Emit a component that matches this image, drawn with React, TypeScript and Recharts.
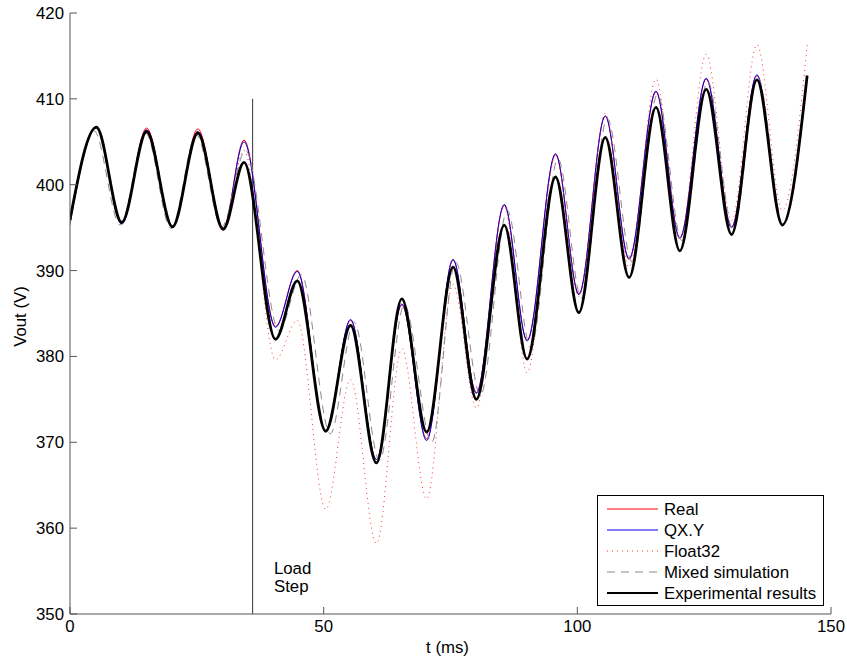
import { LineChart, Line, XAxis, YAxis, Legend, ReferenceLine, ReferenceDot, Label } from "recharts"

// extrema times (ms) shared by Real / QX.Y / Float32 / Experimental
const tMain = [0, 5.2, 10.2, 15.1, 20.2, 25.2, 30.2, 34.3, 40.5, 44.8, 50.4, 55.3, 60.4, 65.4, 70.3, 75.5, 80.1, 85.6, 90.1, 95.7, 100.3, 105.5, 110.2, 115.5, 120.2, 125.4, 130.4, 135.4, 140.4, 145.3]
// mixed simulation is slightly out of phase
const tMixed = [0, 4.7, 9.9, 14.9, 19.9, 24.9, 29.9, 34.6, 41.2, 45.6, 51.3, 56.0, 61.0, 65.9, 71.3, 76.0, 80.9, 86.2, 90.8, 96.2, 100.8, 105.9, 110.8, 115.8, 120.6, 125.7, 130.7, 135.6, 140.6, 145.3]

const real = [395.8, 406.7, 395.6, 406.6, 395.2, 406.5, 395.0, 405.2, 383.5, 390.0, 371.3, 384.2, 368.0, 386.0, 370.4, 391.2, 375.8, 397.6, 381.9, 403.5, 387.3, 408.0, 391.3, 410.8, 393.8, 412.3, 395.1, 412.7, 395.3, 412.7]
const qxy = [395.5, 406.6, 395.4, 406.4, 395.1, 406.2, 394.9, 405.0, 383.4, 389.9, 371.2, 384.3, 368.0, 386.1, 370.2, 391.3, 375.7, 397.7, 381.8, 403.6, 387.2, 408.0, 391.4, 410.9, 393.8, 412.4, 395.0, 412.8, 395.3, 412.7]
const float32 = [395.5, 406.5, 395.5, 406.5, 395.0, 406.3, 395.0, 404.0, 379.6, 384.2, 362.2, 377.3, 358.2, 380.9, 363.4, 388.4, 374.0, 397.5, 378.1, 403.4, 387.0, 408.3, 390.4, 412.3, 393.6, 415.2, 395.8, 416.3, 397.0, 416.3]
const mixed = [395.3, 406.3, 395.3, 406.0, 394.9, 405.8, 395.1, 404.0, 383.0, 389.5, 371.0, 384.0, 367.9, 386.0, 370.0, 391.0, 375.5, 397.0, 381.0, 403.0, 386.8, 407.7, 391.0, 410.5, 393.5, 412.0, 394.8, 412.5, 395.3, 412.6]
const experimental = [395.9, 406.7, 395.6, 406.2, 395.1, 406.0, 394.8, 402.6, 382.0, 388.8, 371.3, 383.6, 367.6, 386.7, 371.2, 390.4, 375.0, 395.3, 379.7, 400.9, 385.1, 405.5, 389.2, 409.0, 392.3, 411.1, 394.2, 412.2, 395.3, 412.7]

const xTicks = [0, 50, 100, 150]
const yTicks = [350, 360, 370, 380, 390, 400, 410, 420]

const loadStepT = 36

const FONT = "'Liberation Sans', Arial, sans-serif"
const FS = 16.8

const toPoints = (ts: number[], vs: number[]) => ts.map((t, i) => ({ t, v: vs[i] }))

const series = [
  { name: "Real", data: toPoints(tMain, real), stroke: "#ff0000", width: 1, dash: undefined as string | undefined },
  { name: "QX.Y", data: toPoints(tMain, qxy), stroke: "#0000e6", width: 1, dash: undefined },
  { name: "Float32", data: toPoints(tMain, float32), stroke: "#ff3030", width: 1, dash: "1 4" },
  { name: "Mixed simulation", data: toPoints(tMixed, mixed), stroke: "#8a8a8a", width: 1, dash: "8 6" },
  { name: "Experimental results", data: toPoints(tMain, experimental), stroke: "#000000", width: 2.8, dash: undefined },
]

function renderLegend() {
  return (
    <svg width={227} height={111} style={{ display: "block" }}>
      <rect x={0.5} y={0.5} width={226} height={110} fill="#fff" stroke="#000" />
      {series.map((s, i) => {
        const y = 14 + i * 21
        return (
          <g key={s.name}>
            <line x1={10} x2={61} y1={y} y2={y} stroke={s.stroke} strokeWidth={Math.min(s.width, 2)} strokeDasharray={s.dash} />
            <text x={67} y={y} dominantBaseline="central" fontSize={FS} fontFamily={FONT} fill="#000">{s.name}</text>
          </g>
        )
      })}
    </svg>
  )
}

function YTitle({ viewBox }: any) {
  const cx = viewBox.x + 20
  const cy = viewBox.y + viewBox.height / 2 + 3
  return (
    <text x={cx} y={cy} transform={`rotate(-90 ${cx} ${cy})`} textAnchor="middle" dominantBaseline="central" fontSize={FS} fontFamily={FONT} fill="#000">Vout (V)</text>
  )
}

function XTitle({ viewBox }: any) {
  const cx = viewBox.x + viewBox.width / 2 - 3
  return (
    <text x={cx} y={viewBox.y + 39} textAnchor="middle" fontSize={FS} fontFamily={FONT} fill="#000">t (ms)</text>
  )
}

function LoadStepLabel({ viewBox }: any) {
  return (
    <text x={viewBox.x} y={viewBox.y} fontSize={FS} fontFamily={FONT} fill="#000">
      <tspan x={viewBox.x}>Load</tspan>
      <tspan x={viewBox.x} dy={18}>Step</tspan>
    </text>
  )
}

export default function App() {
  return (
    <div style={{ position: "absolute", left: 0, top: 0 }}>
      <LineChart width={847} height={662} margin={{ top: 13, right: 16, left: 0, bottom: 0 }}>
        <XAxis
          dataKey="t"
          type="number"
          domain={[0, 150]}
          ticks={xTicks}
          allowDataOverflow
          axisLine={{ stroke: "#555" }}
          tickLine={{ stroke: "#555" }}
          tickSize={-7}
          tickMargin={13}
          height={48}
          tick={{ fill: "#000", fontSize: FS, fontFamily: FONT }}
        >
          <Label content={<XTitle />} />
        </XAxis>
        <YAxis
          type="number"
          domain={[350, 420]}
          ticks={yTicks}
          allowDataOverflow
          axisLine={{ stroke: "#555" }}
          tickLine={{ stroke: "#555" }}
          tickSize={-7}
          tickMargin={13}
          width={70}
          tick={{ fill: "#000", fontSize: FS, fontFamily: FONT }}
        >
          <Label content={<YTitle />} />
        </YAxis>
        <ReferenceLine segment={[{ x: loadStepT, y: 410 }, { x: loadStepT, y: 350 }]} stroke="#333" strokeWidth={1} />
        <ReferenceDot x={40.2} y={354.7} r={0} fill="none" stroke="none" label={LoadStepLabel} />
        {series.map((s) => (
          <Line
            key={s.name}
            data={s.data}
            dataKey="v"
            name={s.name}
            type="monotone"
            stroke={s.stroke}
            strokeWidth={s.width}
            strokeDasharray={s.dash}
            dot={false}
            activeDot={false}
            isAnimationActive={false}
          />
        ))}
        <Legend
          content={renderLegend}
          layout="horizontal"
          align="center"
          verticalAlign="middle"
          wrapperStyle={{ position: "absolute", left: 597, top: 495, width: 227, height: 111 }}
        />
      </LineChart>
    </div>
  )
}
